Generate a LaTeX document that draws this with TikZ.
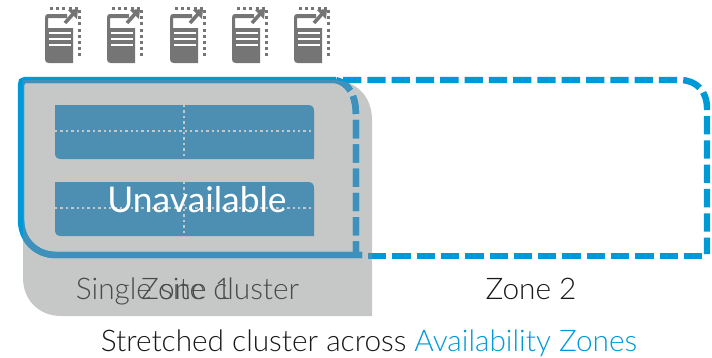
\documentclass[tikz,border=0pt]{standalone}
\usepackage{fontspec}
\setmainfont[UprightFont=* Light]{Lato}
\newfontfamily\boldlabel{Lato}
\usepackage{tikz}
\definecolor{zoneblue}{HTML}{0099D8}
\definecolor{zonedark}{HTML}{3F90BB}
\definecolor{sitegrey}{HTML}{C6C8C7}
\definecolor{boxblue}{HTML}{4D8FB3}
\definecolor{icongrey}{HTML}{757575}
\definecolor{labelgrey}{HTML}{4A4A4A}
\tikzset{>=latex}
\tikzset{
  zoneline/.style = {line width = 6.4pt},
  zonedash/.style = {line width = 6.4pt, dash pattern = on 18.3pt off 6pt},
  gridline/.style = {line width = 2.4pt, sitegrey, dash pattern = on 2.4pt off 3pt},
  icondots/.style = {line width = 3pt, icongrey, dash pattern = on 3pt off 3.2pt},
  iconbar/.style = {line width = 2pt, white},
  bigtext/.style = {inner sep = 0, anchor = base, font = \fontsize{29.8}{30}\selectfont}
}
\newcommand{\zoneframe}[1]{
\draw[zoneline, #1] (362, 255) -- (56, 255) .. controls (36, 255) and (21, 240) .. (21, 220) -- (21, 85) .. controls (21, 82) and (22, 80) .. (25, 80) -- (336, 80);
\draw[zonedash, #1] (336, 80) .. controls (348, 83) and (356, 94) .. (356, 116) -- (356, 255);
\draw[zonedash, #1] (343, 80) -- (680, 80) .. controls (696, 80) and (707, 91) .. (707, 108) -- (707, 254);
\draw[zonedash, #1] (368, 256) -- (703, 256);
}
\newcommand{\sitepath}{(23, 80) -- (332, 80) .. controls (356, 80) and (372, 96) .. (372, 120) -- (372, 316) -- (61, 316) .. controls (39, 316) and (23, 300) .. (23, 278) -- cycle}
\begin{document}
\begin{tikzpicture}[x = 1pt, y = -1pt]
\useasboundingbox (0, 0) rectangle (712, 357);
\fill[sitegrey] \sitepath;
% blocks
\foreach \top in {105, 182} {
  \fill[boxblue] (55, \top) -- (308, \top) .. controls (312, \top) and (314, \top+2) .. (314, \top+6) -- (314, \top+54) -- (61, \top+54) .. controls (57, \top+54) and (55, \top+52) .. (55, \top+48) -- cycle;
  \draw[gridline] (55, \top+26) -- (314, \top+26);
  \draw[gridline] (184, \top) -- (184, \top+54);
}
\zoneframe{zoneblue}
\begin{scope}
\clip \sitepath;
\zoneframe{zonedark}
\end{scope}
% servers
\foreach \x in {45, 107, 170, 232, 294} {
  \begin{scope}[shift = {(\x, 0)}]
  \fill[icongrey] (3, 14) -- (22, 14) -- (22, 18) -- (3, 18) -- (3, 28) -- (28, 28) -- (28, 63) -- (4, 63) .. controls (1, 63) and (0, 62) .. (0, 59) -- (0, 18) .. controls (0, 15) and (1, 14) .. (3, 14) -- cycle;
  \draw[line width = 3.6pt, icongrey] (20, 23) -- (28, 14);
  \fill[icongrey] (23, 10) -- (33, 9) -- (32, 19) -- cycle;
  \draw[iconbar] (3.5, 33) -- (25.5, 33);
  \draw[iconbar] (3.5, 39.3) -- (25.5, 39.3);
  \draw[iconbar] (3.5, 45.3) -- (25.5, 45.3);
  \draw[icondots] (5, 8) -- (34, 8) -- (34, 57);
  \end{scope}
}
\node[bigtext, white, font = \boldlabel\fontsize{35.4}{36}\selectfont] (unavailable) at (197, 212) {Unavailable};
\node[bigtext, labelgrey] (single) at (187.5, 299) {Single site cluster};
\node[bigtext, labelgrey] (zoneone) at (186.5, 299) {Zone 1};
\node[bigtext, black!90] (zonetwo) at (531, 299) {Zone 2};
\node[bigtext, black!90] (stretched) at (369, 351) {Stretched cluster across \textcolor{zoneblue}{Availability Zones}};
\end{tikzpicture}
\end{document}
